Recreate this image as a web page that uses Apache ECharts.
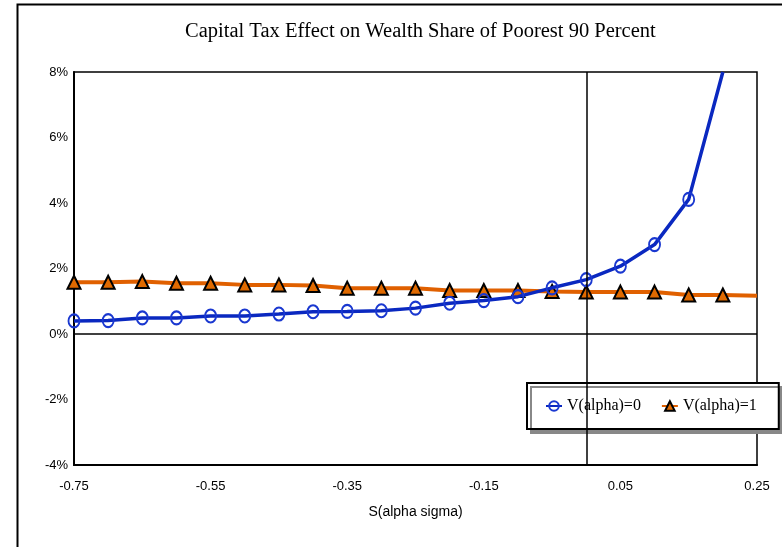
<!DOCTYPE html>
<html>
<head>
<meta charset="utf-8">
<script src="https://cdn.jsdelivr.net/npm/echarts@6/dist/echarts.min.js"></script>
<style>
html,body{margin:0;padding:0;background:#fff;}
#chart{width:782px;height:547px;}
</style>
</head>
<body>
<div id="chart"></div>
<script>
// x positions (S(alpha sigma))
const xValues = [-0.75,-0.70,-0.65,-0.60,-0.55,-0.50,-0.45,-0.40,-0.35,-0.30,-0.25,-0.20,-0.15,-0.10,-0.05,0.00,0.05,0.10,0.15,0.20,0.25];
// V(alpha)=0 (percent); last marker at 0.15, line continues to 0.20
const v0Values = [0.40,0.41,0.49,0.49,0.55,0.55,0.61,0.68,0.69,0.71,0.79,0.94,1.02,1.14,1.41,1.66,2.07,2.73,4.11,8.00];
// V(alpha)=1 (percent); markers through 0.20, line continues to 0.25
const v1Values = [1.58,1.58,1.60,1.55,1.55,1.50,1.50,1.48,1.40,1.40,1.40,1.33,1.33,1.33,1.30,1.28,1.28,1.28,1.19,1.19,1.17];
const xTickLabels = [-0.75,-0.55,-0.35,-0.15,0.05,0.25];
const seriesNames = ['V(alpha)=0','V(alpha)=1'];
const titleText = 'Capital Tax Effect on Wealth Share of Poorest 90 Percent';
const xAxisName = 'S(alpha sigma)';

const blueMarkerCount = 19;
const orangeMarkerCount = 20;

const v0Data = v0Values.map((v,i)=> i < blueMarkerCount ? [xValues[i], v] : {value:[xValues[i], v], symbol:'none'});
const v1Data = v1Values.map((v,i)=> i < orangeMarkerCount ? [xValues[i], v] : {value:[xValues[i], v], symbol:'none'});

const chart = echarts.init(document.getElementById('chart'));
chart.setOption({
  animation:false,
  backgroundColor:'#fff',
  title:{
    text:titleText, left:180, top:16,
    textStyle:{fontFamily:'Liberation Serif', fontSize:20.5, fontWeight:'normal', color:'#000'}
  },
  graphic:[{
    type:'rect', left:15, top:2, z:-1,
    shape:{width:800, height:600},
    style:{fill:'none', stroke:'#000', lineWidth:2}
  }],
  grid:{
    left:74, right:25, top:72, bottom:82, show:true,
    borderColor:'#000', borderWidth:1.5, backgroundColor:'#fff'
  },
  legend:{
    left:527, top:383, orient:'horizontal',
    padding:[15,22,15,18], itemGap:20, itemWidth:16, itemHeight:12,
    backgroundColor:'#fff', borderColor:'#000', borderWidth:2,
    shadowColor:'#888', shadowOffsetX:4, shadowOffsetY:4, shadowBlur:0,
    textStyle:{fontFamily:'Liberation Serif', fontSize:16, color:'#000'},
    data:seriesNames
  },
  xAxis:{
    type:'value', min:-0.75, max:0.25,
    name:xAxisName, nameLocation:'middle', nameGap:40,
    nameTextStyle:{fontFamily:'Liberation Sans', fontSize:14, color:'#000'},
    axisLine:{onZero:false, lineStyle:{color:'#000', width:2}},
    axisTick:{show:false},
    splitLine:{show:false},
    axisLabel:{customValues:xTickLabels, margin:15, fontFamily:'Liberation Sans', fontSize:13, color:'#000',
      formatter:v=>String(Math.round(v*100)/100)}
  },
  yAxis:{
    type:'value', min:-4, max:8, interval:2,
    axisLine:{show:true, onZero:false, lineStyle:{color:'#000', width:2}},
    axisTick:{show:false},
    splitLine:{show:false},
    axisLabel:{margin:6, fontFamily:'Liberation Sans', fontSize:13, color:'#000', formatter:'{value}%'}
  },
  series:[
    {
      name:seriesNames[0], type:'line', data:v0Data, z:3,
      symbol:'circle', symbolSize:[11,13],
      lineStyle:{color:'#0A28C0', width:3.5},
      itemStyle:{color:'rgba(255,255,255,0)', borderColor:'#1A38D0', borderWidth:2},
      clip:true,
      markLine:{
        silent:true, symbol:['none','none'], label:{show:false},
        lineStyle:{color:'#000', width:1.5, type:'solid'},
        data:[{xAxis:0},{yAxis:0}]
      }
    },
    {
      name:seriesNames[1], type:'line', data:v1Data, z:2,
      symbol:'triangle', symbolSize:[13,13],
      lineStyle:{color:'#E06000', width:4},
      itemStyle:{color:'#E06A00', borderColor:'#000', borderWidth:2},
      clip:true
    }
  ]
});
</script>
</body>
</html>
